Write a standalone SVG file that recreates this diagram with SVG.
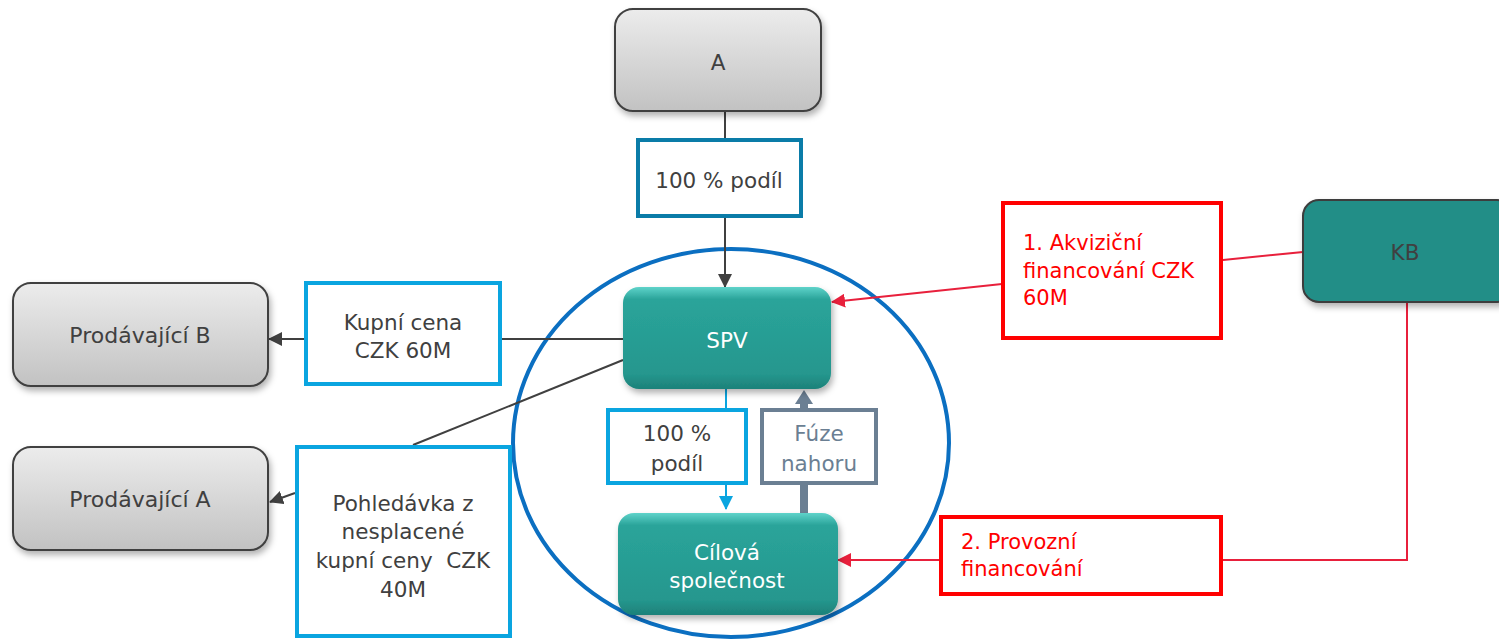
<svg xmlns="http://www.w3.org/2000/svg" width="1499" height="640" viewBox="0 0 1499 640">
  <defs>
    <linearGradient id="grey" x1="0" y1="0" x2="0" y2="1">
      <stop offset="0" stop-color="#ececec"/>
      <stop offset="1" stop-color="#c2c2c2"/>
    </linearGradient>
    <linearGradient id="teal" x1="0" y1="0" x2="0" y2="1">
      <stop offset="0" stop-color="#5fd3ca"/>
      <stop offset="0.12" stop-color="#2aa49a"/>
      <stop offset="0.85" stop-color="#25978e"/>
      <stop offset="1" stop-color="#1d8179"/>
    </linearGradient>
    <filter id="shadow" x="-10%" y="-10%" width="125%" height="135%">
      <feDropShadow dx="2" dy="4" stdDeviation="3" flood-color="#000" flood-opacity="0.3"/>
    </filter>
    <marker id="arrDark" viewBox="0 0 14 14" refX="13" refY="7" markerWidth="14" markerHeight="14" markerUnits="userSpaceOnUse" orient="auto">
      <path d="M0,0 L14,7 L0,14 Z" fill="#404040"/>
    </marker>
    <marker id="arrRed" viewBox="0 0 14 14" refX="13" refY="7" markerWidth="14" markerHeight="14" markerUnits="userSpaceOnUse" orient="auto">
      <path d="M0,0 L14,7 L0,14 Z" fill="#e8203c"/>
    </marker>
    <marker id="arrBlue" viewBox="0 0 14 14" refX="13" refY="7" markerWidth="14" markerHeight="14" markerUnits="userSpaceOnUse" orient="auto">
      <path d="M0,0 L14,7 L0,14 Z" fill="#0aa5e0"/>
    </marker>
  </defs>
  <style>
    text { font-family: "DejaVu Sans", "Noto Sans", sans-serif; font-size: 21.5px; text-anchor: middle; dominant-baseline: central; }
    .dark { fill: #404040; }
    .white { fill: #ffffff; }
    .red { fill: #ff0000; font-size: 21px; text-anchor: start; }
    .slate { fill: #6b7f93; }
    .big { font-size: 22px; }
    .greyNode { fill: url(#grey); stroke: #404040; stroke-width: 2; filter: url(#shadow); }
    .tealNode { fill: url(#teal); filter: url(#shadow); }
    .kbNode { fill: #218e87; stroke: #3c3c3c; stroke-width: 2; filter: url(#shadow); }
    .lbl { fill: #ffffff; stroke-width: 4; }
    .c-dark { fill: none; stroke: #404040; stroke-width: 2; }
    .c-red { fill: none; stroke: #e8203c; stroke-width: 2; }
    .c-blue { fill: none; stroke: #0aa5e0; stroke-width: 2; }
  </style>

  <!-- group boundary around SPV and target company -->
  <ellipse id="group-ellipse" cx="731" cy="443" rx="218" ry="194" fill="none" stroke="#0b6fc1" stroke-width="4"/>

  <g id="connectors">
    <!-- A to SPV ownership -->
    <line class="c-dark" x1="725" y1="111" x2="725" y2="138"/>
    <line class="c-dark" x1="725" y1="218" x2="725" y2="287" marker-end="url(#arrDark)"/>
    <!-- SPV to sellers -->
    <line class="c-dark" x1="623" y1="339" x2="501" y2="339"/>
    <line class="c-dark" x1="305" y1="339" x2="269" y2="339" marker-end="url(#arrDark)"/>
    <line class="c-dark" x1="623" y1="360" x2="413" y2="445"/>
    <line class="c-dark" x1="295" y1="493" x2="270" y2="502" marker-end="url(#arrDark)"/>
    <!-- SPV to target -->
    <line class="c-blue" x1="726" y1="389" x2="726" y2="408"/>
    <line class="c-blue" x1="726" y1="485" x2="726" y2="509" marker-end="url(#arrBlue)"/>
    <!-- upstream merger -->
    <line x1="804" y1="513" x2="804" y2="402" stroke="#6b7f93" stroke-width="8"/>
    <path d="M795,404 L804,390 L813,404 Z" fill="#6b7f93"/>
    <!-- KB financing -->
    <line class="c-red" x1="1303" y1="252" x2="1223" y2="260"/>
    <line class="c-red" x1="1002" y1="284" x2="832" y2="302" marker-end="url(#arrRed)"/>
    <polyline class="c-red" points="1407,303 1407,560 1223,560"/>
    <line class="c-red" x1="939" y1="560" x2="838" y2="560" marker-end="url(#arrRed)"/>
  </g>

  <g id="node-a">
    <rect class="greyNode" x="615" y="9" width="206" height="102" rx="18"/>
    <text class="dark" x="718" y="62">A</text>
  </g>

  <g id="label-a-share">
    <rect class="lbl" x="638" y="140" width="163" height="76" stroke="#0a7ca8"/>
    <text class="dark" x="719" y="180">100 % podíl</text>
  </g>

  <g id="node-spv">
    <rect class="tealNode" x="623" y="287" width="208" height="102" rx="16"/>
    <text class="white" x="727" y="340">SPV</text>
  </g>

  <g id="node-target">
    <rect class="tealNode" x="618" y="513" width="220" height="102" rx="16"/>
    <text class="white" x="727" y="552">Cílová</text>
    <text class="white" x="727" y="580">společnost</text>
  </g>

  <g id="label-spv-share">
    <rect class="lbl" x="608" y="410" width="138" height="73" stroke="#0aa5e0"/>
    <text class="dark" x="677" y="433">100 %</text>
    <text class="dark" x="677" y="463">podíl</text>
  </g>

  <g id="label-merger">
    <rect class="lbl" x="762" y="410" width="114" height="73" stroke="#6b7f93" stroke-width="5"/>
    <text class="slate" x="819" y="433">Fúze</text>
    <text class="slate" x="819" y="463">nahoru</text>
  </g>

  <g id="node-seller-b">
    <rect class="greyNode" x="13" y="283" width="255" height="103" rx="18"/>
    <text class="dark big" x="140" y="335">Prodávající B</text>
  </g>

  <g id="node-seller-a">
    <rect class="greyNode" x="13" y="447" width="255" height="103" rx="18"/>
    <text class="dark big" x="140" y="499">Prodávající A</text>
  </g>

  <g id="label-price">
    <rect class="lbl" x="306" y="283" width="194" height="101" stroke="#0aa5e0"/>
    <text class="dark" x="403" y="322">Kupní cena</text>
    <text class="dark" x="403" y="350">CZK 60M</text>
  </g>

  <g id="label-receivable">
    <rect class="lbl" x="297" y="447" width="213" height="189" stroke="#0aa5e0"/>
    <text class="dark" x="403" y="503">Pohledávka z</text>
    <text class="dark" x="403" y="531">nesplacené</text>
    <text class="dark" x="403" y="560" xml:space="preserve">kupní ceny  CZK</text>
    <text class="dark" x="403" y="589">40M</text>
  </g>

  <g id="node-kb">
    <rect class="kbNode" x="1303" y="200" width="210" height="102" rx="16"/>
    <text class="dark" x="1405" y="252">KB</text>
  </g>

  <g id="label-acquisition">
    <rect class="lbl" x="1003" y="203" width="218" height="135" stroke="#ff0000" stroke-width="5"/>
    <text class="red" x="1023" y="243">1. Akviziční</text>
    <text class="red" x="1023" y="271">financování CZK</text>
    <text class="red" x="1023" y="298">60M</text>
  </g>

  <g id="label-operating">
    <rect class="lbl" x="941" y="517" width="280" height="77" stroke="#ff0000" stroke-width="5"/>
    <text class="red" x="961" y="542">2. Provozní</text>
    <text class="red" x="961" y="569">financování</text>
  </g>
</svg>
